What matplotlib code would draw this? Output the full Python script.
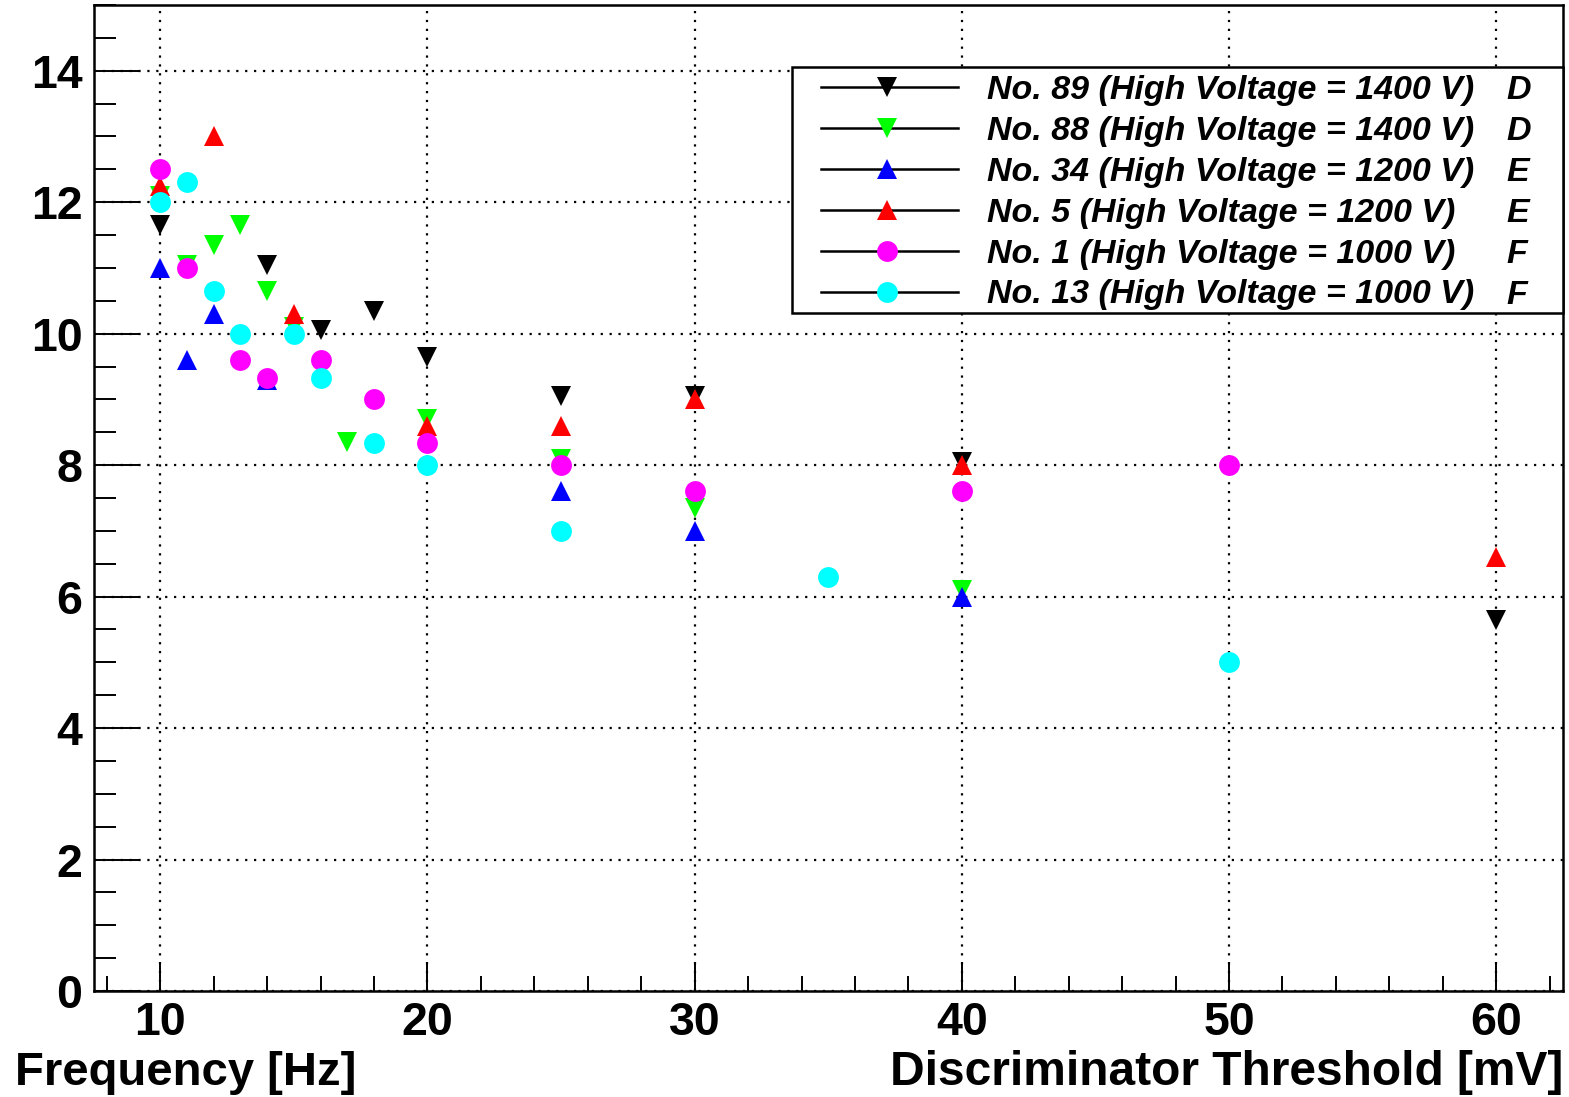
import matplotlib
matplotlib.use('Agg')
import matplotlib.pyplot as plt
from matplotlib.patches import Rectangle
from matplotlib.lines import Line2D
from matplotlib.ticker import MultipleLocator

plt.rcParams['font.family'] = ['Liberation Sans', 'DejaVu Sans']

# data: threshold [mV] -> frequency [Hz]
x_89 = [10, 14, 16, 18, 20, 25, 30, 40, 60]
y_89 = [11.65, 11.05, 10.05, 10.35, 9.65, 9.05, 9.05, 8.05, 5.65]

x_88 = [10, 11, 12, 13, 14, 15, 17, 20, 25, 30, 40]
y_88 = [12.1, 11.05, 11.35, 11.65, 10.65, 10.1, 8.35, 8.7, 8.1, 7.35, 6.1]

x_34 = [10, 11, 12, 14, 25, 30, 40]
y_34 = [11.0, 9.6, 10.3, 9.3, 7.6, 7.0, 6.0]

x_5 = [10, 12, 15, 20, 25, 30, 40, 60]
y_5 = [12.25, 13.0, 10.3, 8.6, 8.6, 9.0, 8.0, 6.6]

x_1 = [10, 11, 13, 14, 16, 18, 20, 25, 30, 40, 50]
y_1 = [12.5, 11.0, 9.6, 9.33, 9.6, 9.0, 8.33, 8.0, 7.6, 7.6, 8.0]

x_13 = [10, 11, 12, 13, 15, 16, 18, 20, 25, 35, 50]
y_13 = [12.0, 12.3, 10.65, 10.0, 10.0, 9.33, 8.33, 8.0, 7.0, 6.3, 5.0]

labels = ['No. 89 (High Voltage = 1400 V)', 'No. 88 (High Voltage = 1400 V)',
          'No. 34 (High Voltage = 1200 V)', 'No. 5 (High Voltage = 1200 V)',
          'No. 1 (High Voltage = 1000 V)', 'No. 13 (High Voltage = 1000 V)']
groups = ['D', 'D', 'E', 'E', 'F', 'F']
colors = ['black', '#00ff00', 'blue', 'red', 'magenta', 'cyan']
markers = ['v', 'v', '^', '^', 'o', 'o']

series = [(x_89, y_89), (x_88, y_88), (x_34, y_34), (x_5, y_5), (x_1, y_1), (x_13, y_13)]

W, H = 1569, 1097
fig = plt.figure(figsize=(W / 100, H / 100), dpi=100)
L, R, T, B = 93.5, 1563, 5, 991
ax = fig.add_axes([L / W, 1 - B / H, (R - L) / W, (B - T) / H])

for (xs, ys), c, m in zip(series, colors, markers):
    ax.plot(xs, ys, linestyle='none', marker=m, color=c, markersize=15,
            markeredgewidth=0, zorder=3)

ax.set_xlim(7.5, 62.5)
ax.set_ylim(0, 15)
ax.xaxis.set_major_locator(MultipleLocator(10))
ax.xaxis.set_minor_locator(MultipleLocator(2))
ax.yaxis.set_major_locator(MultipleLocator(2))
ax.yaxis.set_minor_locator(MultipleLocator(0.5))
ax.set_axisbelow(True)
ax.grid(True, which='major', color='black', linestyle=(0, (1, 3)), linewidth=1.6)

ax.tick_params(axis='x', which='major', direction='in', length=21, width=1.4,
               labelsize=33.5, pad=7)
ax.tick_params(axis='x', which='minor', direction='in', length=10.5, width=1.4)
ax.tick_params(axis='y', which='major', direction='in', length=33, width=1.4,
               labelsize=33.5, pad=8)
ax.tick_params(axis='y', which='minor', direction='in', length=16, width=1.4)
for lab in ax.get_xticklabels() + ax.get_yticklabels():
    lab.set_fontweight('bold')
for s in ax.spines.values():
    s.set_linewidth(1.8)

fig.text(15 / W, 1 - 1085 / H, 'Frequency [Hz]', fontsize=34, fontweight='bold',
         ha='left', va='baseline')
fig.text(R / W, 1 - 1085 / H, 'Discriminator Threshold [mV]', fontsize=34.5,
         fontweight='bold', ha='right', va='baseline')

# legend box drawn by hand (pixel layout -> axes fraction)
def fx(px):
    return (px - L) / (R - L)

def fy(py):
    return (B - py) / (B - T)

ax.add_patch(Rectangle((fx(792), fy(313)), 1 - fx(792), fy(67) - fy(313),
                       transform=ax.transAxes, facecolor='white', edgecolor='black',
                       linewidth=1.8, zorder=5, clip_on=False))
for i in range(6):
    ry = fy(87 + i * 40.9)
    ax.add_line(Line2D([fx(821), fx(958)], [ry, ry], transform=ax.transAxes,
                       color='black', linewidth=1.8, zorder=6))
    ax.plot([fx(887)], [ry], transform=ax.transAxes, marker=markers[i],
            color=colors[i], markersize=15, markeredgewidth=0, zorder=7)
    ax.text(fx(987), ry, labels[i], transform=ax.transAxes, fontsize=24.5,
            fontweight='bold', fontstyle='italic', va='center_baseline', zorder=7)
    ax.text(fx(1506), ry, groups[i], transform=ax.transAxes, fontsize=24.5,
            fontweight='bold', fontstyle='italic', va='center_baseline', zorder=7)

fig.savefig('out.png', dpi=100)
